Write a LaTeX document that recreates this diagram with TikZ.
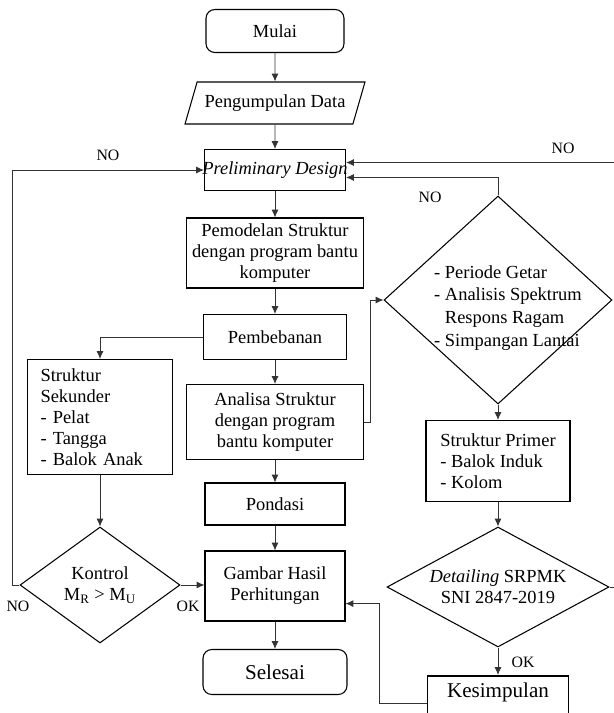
\documentclass[tikz,border=0pt]{standalone}
\usepackage{fontspec}
\setmainfont{Liberation Serif}
\usetikzlibrary{shapes.geometric,arrows.meta}

\tikzset{
  box/.style={draw, rectangle, line width=0.6pt, align=center, inner xsep=0pt, inner ysep=1pt, font=\fontsize{10.5}{12}\selectfont},
  term/.style={box, rounded corners=5pt},
  io/.style={draw, trapezium, trapezium left angle=67, trapezium right angle=113, trapezium stretches body, line width=0.6pt, inner xsep=0pt, font=\fontsize{10.5}{12}\selectfont},
  dec/.style={draw, diamond, line width=0.6pt, inner sep=0pt, align=center, font=\fontsize{10.5}{12}\selectfont},
  arr/.style={-{Latex[length=4.5pt,width=4pt]}, line width=0.5pt, black!80},
  lbl/.style={font=\fontsize{9}{10}\selectfont, inner sep=0pt},
}

\begin{document}
\begin{tikzpicture}[x=0.02cm, y=-0.02cm]
  \useasboundingbox (0,0) rectangle (613,713);

  % main column
  \node[term, minimum width=2.76cm, minimum height=0.86cm] (mulai) at (275,31) {Mulai};
  \node[io, minimum width=3.6cm, minimum height=0.84cm] (data) at (275,103) {Pengumpulan Data};
  \node[box, minimum width=2.82cm, minimum height=0.82cm] (prelim) at (275,170) {\makebox[2.82cm]{\itshape Preliminary Design}};
  \node[box, minimum width=3.54cm, minimum height=1.4cm] (model) at (275,253) {Pemodelan Struktur\\dengan program bantu\\komputer};
  \node[box, minimum width=2.86cm, minimum height=0.9cm] (beban) at (275,337) {Pembebanan};
  \node[box, minimum width=3.54cm, minimum height=1.5cm] (analisa) at (275,422) {Analisa Struktur\\dengan program\\bantu komputer};
  \node[box, minimum width=2.8cm, minimum height=0.84cm] (pondasi) at (275,504) {Pondasi};
  \node[box, minimum width=2.8cm, minimum height=1.4cm] (gambar) at (275,586) {Gambar Hasil\\Perhitungan};
  \node[term, minimum width=2.88cm, minimum height=0.9cm, font=\fontsize{12}{14}\selectfont] (selesai) at (275,672) {Selesai};

  % left branch
  \node[box, minimum width=2.9cm, minimum height=2.3cm, text width=2.38cm, align=left, inner xsep=0.26cm] (sekunder) at (100,417) {Struktur\\Sekunder\\- Pelat\\- Tangga\\- Balok Anak};
  \node[dec, minimum width=3.2cm, minimum height=2.32cm, aspect=1.38] (kontrol) at (100,585) {Kontrol\\M\textsubscript{R} > M\textsubscript{U}};

  % right branch
  \node[dec, minimum width=4.56cm, minimum height=4.16cm, aspect=1.1] (periode) at (498,300) {};
  \node[align=left, inner sep=0pt, font=\fontsize{10.5}{13}\selectfont] (periodetxt) at (508,308) {- Periode Getar\\- Analisis Spektrum\\\hphantom{- }Respons Ragam\\- Simpangan Lantai};
  \node[box, minimum width=2.88cm, minimum height=1.62cm, align=left] (primer) at (498,461) {Struktur Primer\\- Balok Induk\\- Kolom};
  \node[dec, minimum width=4.44cm, minimum height=2.4cm, aspect=1.85] (detail) at (498,587) {\textit{Detailing} SRPMK\\SNI 2847-2019};
  \node[box, anchor=north, line width=1.1pt, minimum width=2.82cm, inner ysep=4pt, text height=8pt, text depth=15pt, font=\fontsize{12}{14}\selectfont] (simpul) at (498,675) {Kesimpulan};

  \draw[arr] (mulai) -- (data);
  \draw[arr] (data) -- (prelim);
  \draw[arr] (prelim) -- (model);
  \draw[arr] (model) -- (beban);
  \draw[arr] (beban) -- (analisa);
  \draw[arr] (analisa) -- (pondasi);
  \draw[arr] (pondasi) -- (gambar);
  \draw[arr] (gambar) -- (selesai);

  \draw[arr] (beban.west) -| (sekunder.north);
  \draw[arr] (sekunder) -- (kontrol);
  \draw[arr] (kontrol.east) -- (kontrol.east -| gambar.west);
  \draw[arr] (kontrol.west) -- ++(-7,0) |- (prelim.west);

  \draw[arr] (analisa.east) -- ++(6,0) |- (periode.west);
  \draw[arr] (periode.north) |- (prelim.-6);
  \draw[arr] (periode) -- (primer);
  \draw[arr] (primer) -- (detail);
  \draw[arr] (detail.east) -- ++(14,0) |- (prelim.6);
  \draw[arr] (detail) -- (simpul);
  \draw[arr] (simpul.west) -- ++(-47,0) |- (gambar.-14);

  \node[lbl] (no1) at (108,155) {NO};
  \node[lbl] (no2) at (430,197) {NO};
  \node[lbl] (no3) at (563,148) {NO};
  \node[lbl] (no4) at (18,606) {NO};
  \node[lbl] (ok1) at (188,606) {OK};
  \node[lbl] (ok2) at (523,662) {OK};
\end{tikzpicture}
\end{document}
